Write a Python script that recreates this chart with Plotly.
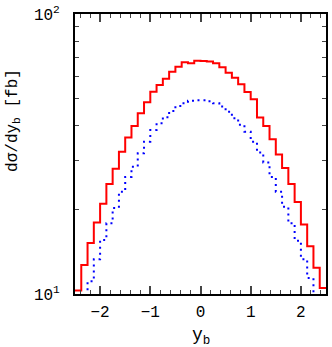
import numpy as np
import plotly.graph_objects as go

# bin edges in y_b (40 bins of 0.125)
edges = np.linspace(-2.5, 2.5, 41)

# solid red histogram [fb]
red = [10.3, 12.7, 15.2, 18.0, 21.0, 24.7, 28.0, 32.2, 36.2, 39.8,
       44.2, 48.4, 52.8, 55.8, 58.7, 62.2, 64.8, 67.2, 66.7, 68.1,
       68.0, 67.6, 66.7, 64.5, 61.7, 59.2, 56.1, 52.7, 49.6, 42.7,
       39.8, 35.7, 31.5, 28.2, 24.7, 21.3, 17.7, 14.8, 12.4, 10.5]

# dotted blue histogram [fb]
blue = [8.5, 9.5, 11.1, 13.3, 15.6, 17.9, 20.3, 23.2, 26.2, 28.5,
        31.8, 35.0, 38.5, 40.7, 42.8, 45.0, 46.9, 48.0, 49.0, 49.2,
        49.2, 48.8, 48.0, 46.7, 44.8, 42.4, 40.2, 38.0, 35.0, 32.0,
        29.5, 26.2, 23.2, 20.5, 17.9, 15.5, 13.3, 11.4, 9.5, 8.5]

x_ticks = [-2, -1, 0, 1, 2]
x_ticktext = ["\u22122", "\u22121", "0", "1", "2"]

fig = go.Figure()
fig.add_trace(go.Scatter(
    x=edges, y=blue + [blue[-1]], mode="lines", line_shape="hv",
    line=dict(color="#0000ff", width=2, dash="2px,4px"), showlegend=False))
fig.add_trace(go.Scatter(
    x=edges, y=red + [red[-1]], mode="lines", line_shape="hv",
    line=dict(color="#ff0000", width=2), showlegend=False))

font = "Liberation Mono, Courier New, monospace"
fig.update_layout(
    width=332, height=347,
    margin=dict(l=75, r=4, t=14, b=53),
    paper_bgcolor="white", plot_bgcolor="white",
    font=dict(family=font, size=15, color="black"),
    xaxis=dict(range=[-2.5, 2.5], tickvals=x_ticks, ticktext=x_ticktext,
               ticks="inside", ticklen=8, tickwidth=1.5, mirror="allticks",
               showline=True, linewidth=2, linecolor="black", showgrid=False,
               zeroline=False, tickfont=dict(size=16), ticklabelstandoff=2,
               minor=dict(dtick=0.2, ticks="inside", ticklen=4, tickwidth=1, showgrid=False)),
    yaxis=dict(type="log", range=[1, 2], tickvals=[10, 100],
               ticktext=["10<sup>1</sup>", "10<sup>2</sup>"],
               ticks="inside", ticklen=8, tickwidth=1.5, mirror="allticks",
               showline=True, linewidth=2, linecolor="black", showgrid=False,
               zeroline=False, tickfont=dict(size=16), ticklabelstandoff=10,
               minor=dict(tickvals=[20, 30, 40, 50, 60, 70, 80, 90],
                          ticks="inside", ticklen=4, tickwidth=1, showgrid=False)),
)
fig.add_annotation(text="d\u03c3/dy<sub>b</sub> [fb]", xref="paper", yref="paper",
                   x=-0.245, y=0.62, textangle=-90, showarrow=False,
                   xanchor="center", yanchor="middle", font=dict(size=16))
fig.add_annotation(text="y<sub>b</sub>", xref="paper", yref="paper",
                   x=0.5, y=-0.15, showarrow=False,
                   xanchor="center", yanchor="middle", font=dict(size=18))

fig.write_html("out.html", config={"displayModeBar": False},
               post_script="document.body.style.margin='0';")
